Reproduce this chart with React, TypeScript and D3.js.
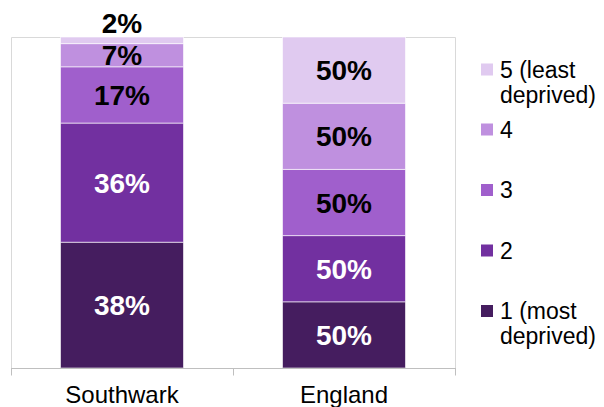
import React, { useEffect, useRef } from "react";
import * as d3 from "d3";

const categories = ["Southwark", "England"];
const quintiles = ["1 (most deprived)", "2", "3", "4", "5 (least deprived)"];
const legendLines = [["1 (most", "deprived)"], ["2"], ["3"], ["4"], ["5 (least", "deprived)"]];
const southwarkValues = [38, 36, 17, 7, 2];
const englandValues = [20, 20, 20, 20, 20];
const southwarkLabels = ["38%", "36%", "17%", "7%", "2%"];
const englandLabels = ["50%", "50%", "50%", "50%", "50%"];

const COLORS = ["#451d5f", "#7230a0", "#a05fcc", "#bf90df", "#e0caf0"];
const LABEL_COLORS = ["#ffffff", "#ffffff", "#000000", "#000000", "#000000"];

const WIDTH = 604;
const HEIGHT = 407;
const PLOT = { left: 11, right: 455, top: 37, bottom: 368 };
const FONT = "'Liberation Sans', Arial, sans-serif";

export default function App() {
  const svgRef = useRef<SVGSVGElement | null>(null);

  useEffect(() => {
    const svg = d3.select(svgRef.current);
    svg.selectAll("*").remove();

    const values = [southwarkValues, englandValues];
    const labels = [southwarkLabels, englandLabels];

    const x = d3
      .scaleBand<string>()
      .domain(categories)
      .range([PLOT.left, PLOT.right])
      .paddingInner(0.446)
      .paddingOuter(0.223);

    const y = d3.scaleLinear().domain([0, 100]).range([PLOT.bottom, PLOT.top]);

    // plot frame
    svg
      .append("path")
      .attr("d", `M${PLOT.left + 0.5},${PLOT.bottom}V${PLOT.top + 0.5}H${PLOT.right + 0.5}V${PLOT.bottom}`)
      .attr("fill", "none")
      .attr("stroke", "#d9d9d9")
      .attr("stroke-width", 1);

    const rows = categories.map((c, i) => {
      const row: Record<string, number | string> = { cat: c };
      quintiles.forEach((q, j) => (row[q] = values[i][j]));
      return row;
    });
    const stacked = d3.stack<Record<string, number | string>>().keys(quintiles)(rows as any);

    stacked.forEach((layer, j) => {
      layer.forEach((d, i) => {
        const x0 = x(categories[i])!;
        const y0 = y(d[1]);
        const y1 = y(d[0]);
        svg
          .append("rect")
          .attr("x", x0)
          .attr("y", y0)
          .attr("width", x.bandwidth())
          .attr("height", y1 - y0)
          .attr("fill", COLORS[j])
          .attr("stroke", "rgba(255,255,255,0.6)")
          .attr("stroke-width", 1);
      });
    });

    // value labels
    stacked.forEach((layer, j) => {
      layer.forEach((d, i) => {
        const y0 = y(d[1]);
        const y1 = y(d[0]);
        const small = y1 - y0 < 15;
        const cy = small ? y0 - 14 : (y0 + y1) / 2;
        svg
          .append("text")
          .attr("x", x(categories[i])! + x.bandwidth() / 2)
          .attr("y", cy)
          .attr("dy", "0.36em")
          .attr("text-anchor", "middle")
          .attr("font-family", FONT)
          .attr("font-weight", "bold")
          .attr("font-size", 28)
          .attr("fill", small ? "#000000" : LABEL_COLORS[j])
          .text(labels[i][j]);
      });
    });

    // x axis
    const axis = svg.append("g").attr("transform", `translate(0,${PLOT.bottom + 0.5})`);
    axis
      .append("line")
      .attr("x1", PLOT.left)
      .attr("x2", PLOT.right + 1)
      .attr("stroke", "#bfbfbf");
    const step = x.step();
    [0, 1, 2].forEach((k) => {
      const tx = Math.round(PLOT.left + k * step) + 0.5;
      axis.append("line").attr("x1", tx).attr("x2", tx).attr("y1", 0).attr("y2", 7).attr("stroke", "#bfbfbf");
    });
    categories.forEach((c) => {
      axis
        .append("text")
        .attr("x", x(c)! + x.bandwidth() / 2)
        .attr("y", 34)
        .attr("text-anchor", "middle")
        .attr("font-family", FONT)
        .attr("font-size", 24)
        .attr("fill", "#000")
        .text(c);
    });

    // legend (top item is quintile 5)
    const legendY = [311, 250.5, 190, 129.5, 69.5];
    quintiles.forEach((q, j) => {
      const g = svg.append("g").attr("transform", `translate(481,${legendY[j]})`);
      g.append("rect").attr("x", 0).attr("y", -6).attr("width", 12).attr("height", 12).attr("fill", COLORS[j]);
      legendLines[j].forEach((line, k) => {
        g.append("text")
          .attr("x", 19)
          .attr("y", k * 25)
          .attr("dy", "0.36em")
          .attr("font-family", FONT)
          .attr("font-size", 23)
          .attr("fill", "#000")
          .text(line);
      });
    });
  }, []);

  return (
    <div style={{ position: "absolute", left: 0, top: 0 }}>
      <svg ref={svgRef} width={WIDTH} height={HEIGHT} style={{ display: "block", background: "#fff" }} />
    </div>
  );
}
